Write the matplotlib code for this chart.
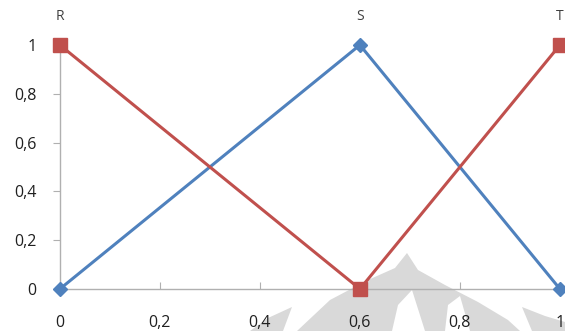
import matplotlib.pyplot as plt
from matplotlib.patches import Polygon

x = [0, 0.6, 1]
blue = [0, 1, 0]
red = [1, 0, 1]
point_labels = ['R', 'S', 'T']
xticks = [0, 0.2, 0.4, 0.6, 0.8, 1]
yticks = [0, 0.2, 0.4, 0.6, 0.8, 1]

plt.rcParams['font.family'] = ['Open Sans', 'DejaVu Sans']

W, H = 565, 331
fig = plt.figure(figsize=(W / 100, H / 100), dpi=100)

# faint logo watermark at the bottom (pixel outlines, converted to figure coords)
wm_grey = [
    [(297, 331), (330, 300), (368, 280), (395, 268), (407, 253), (418, 270),
     (445, 285), (478, 302), (508, 320), (520, 331)],
    [(250, 331), (268, 318), (292, 307), (283, 331)],
    [(522, 307), (545, 316), (565, 322), (565, 331), (532, 331)],
]
wm_white = [
    [(392, 331), (398, 305), (412, 290), (425, 331)],
    [(445, 331), (448, 305), (460, 296), (470, 331)],
]
def add_shape(pts, color):
    pts = [(px / W, (H - py) / H) for px, py in pts]
    fig.patches.append(Polygon(pts, closed=True, transform=fig.transFigure,
                               facecolor=color, edgecolor='none', zorder=-2))
for pts in wm_grey:
    add_shape(pts, '#d9d9d9')
for pts in wm_white:
    add_shape(pts, 'white')

ax = fig.add_axes([0.106, 0.127, 0.885, 0.737])
ax.patch.set_alpha(0)
ax.set_zorder(1)

ax.plot(x, blue, color='#4F81BD', lw=2.2, marker='D', ms=7, clip_on=False, zorder=3)
ax.plot(x, red, color='#C0504D', lw=2.2, marker='s', ms=10, clip_on=False, zorder=3)

for xi, lab in zip(x, point_labels):
    ax.text(xi, 1.115, lab, ha='center', va='center', fontsize=10, color='#404040')

ax.set_xlim(0, 1)
ax.set_ylim(0, 1)
ax.set_xticks(xticks)
ax.set_yticks(yticks)
ax.set_xticklabels([str(t).replace('.', ',') for t in xticks])
ax.set_yticklabels([str(t).replace('.', ',') for t in yticks])
ax.tick_params(axis='x', direction='in', length=5, color='#b0b0b0', pad=19,
               labelsize=11.5, labelcolor='#202020')
ax.tick_params(axis='y', direction='out', length=5, color='#b0b0b0', pad=12,
               labelsize=11.5, labelcolor='#202020')
for s in ['top', 'right']:
    ax.spines[s].set_visible(False)
for s in ['left', 'bottom']:
    ax.spines[s].set_color('#b0b0b0')
    ax.spines[s].set_linewidth(1)

fig.savefig('out.png', dpi=100)
